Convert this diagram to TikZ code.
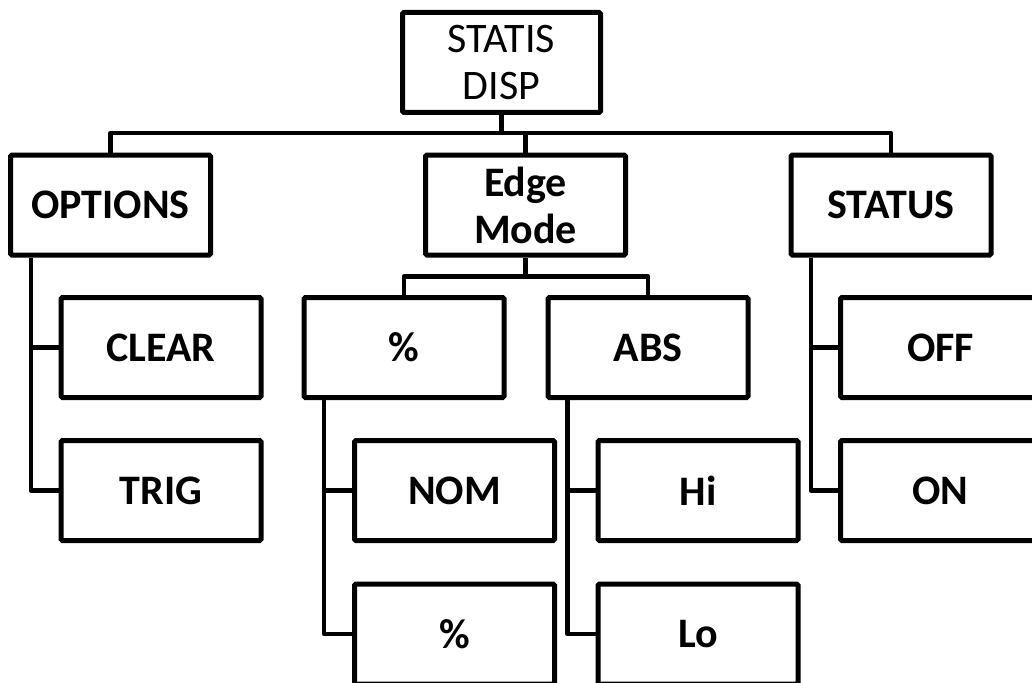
\documentclass[tikz,border=0pt]{standalone}
\usepackage{fontspec}
\setmainfont{Carlito}
\begin{document}
\begin{tikzpicture}[x=1pt,y=-1pt,
  box/.style={draw, line width=5pt, rounded corners=1.5pt, minimum width=200pt,
    minimum height=100pt, inner sep=0pt, align=center, fill=white,
    font=\fontsize{42}{47}\selectfont\bfseries},
  conn/.style={line width=4.6pt, line join=round}]
\useasboundingbox (0,0) rectangle (1032,682);
\clip (0,0) rectangle (1032,682);
\fill[white] (0,0) rectangle (1032,682);

% nodes
\node[box, font=\fontsize{42}{47}\selectfont, minimum width=198pt] (root) at (501.5,62.5) {STATIS\\DISP};
\node[box] (opt)   at (110.5,205) {OPTIONS};
\node[box] (edge)  at (525.5,205) {Edge\\Mode};
\node[box] (stat)  at (891,205)   {STATUS};
\node[box] (clear) at (161,347.5) {CLEAR};
\node[box] (trig)  at (161,490.5) {TRIG};
\node[box] (pct)   at (404,347.5) {\%};
\node[box] (abs)   at (648,347.5) {ABS};
\node[box] (nom)   at (454.5,490.5) {NOM};
\node[box] (pcttwo) at (454.5,634) {\%};
\node[box] (hi)    at (698,490.5) {Hi};
\node[box] (lo)    at (698,634)   {Lo};
\node[box] (off)   at (940.5,347.5) {OFF};
\node[box] (on)    at (940.5,490.5) {ON};

% bus coordinates
\coordinate (busT) at (0,133);
\coordinate (busE) at (0,276.5);
\coordinate (optT) at (31,0);
\coordinate (statT) at (811,0);
\coordinate (pctT) at (324,0);
\coordinate (absT) at (567.5,0);

% top level
\draw[conn] (root.south) -- (root.south |- busT);
\draw[conn] (opt.north) -- (opt.north |- busT) -- (stat.north |- busT) -- (stat.north);
\draw[conn] (edge.north) -- (edge.north |- busT);

% edge mode
\draw[conn] (edge.south) -- (edge.south |- busE);
\draw[conn] (pct.north) -- (pct.north |- busE) -- (abs.north |- busE) -- (abs.north);

% options
\draw[conn] (opt.south -| optT) |- (trig.west);
\draw[conn] (optT |- clear.west) -- (clear.west);

% status
\draw[conn] (stat.south -| statT) |- (on.west);
\draw[conn] (statT |- off.west) -- (off.west);

% percent
\draw[conn] (pct.south -| pctT) |- (pcttwo.west);
\draw[conn] (pctT |- nom.west) -- (nom.west);

% abs
\draw[conn] (abs.south -| absT) |- (lo.west);
\draw[conn] (absT |- hi.west) -- (hi.west);
\end{tikzpicture}
\end{document}
